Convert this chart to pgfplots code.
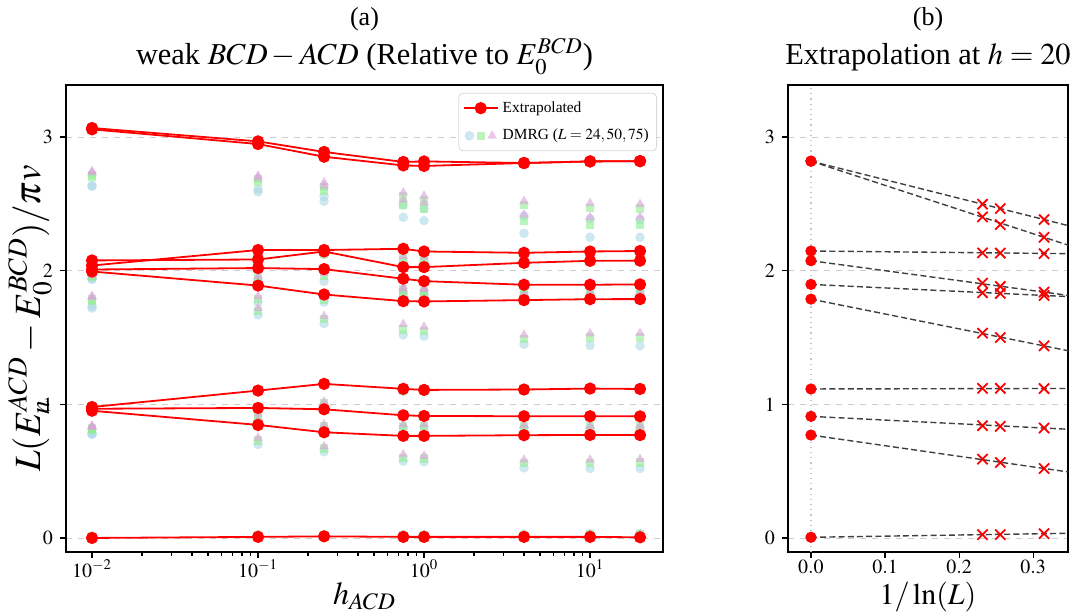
\documentclass[border=0pt]{standalone}
\usepackage{mathptmx}
\usepackage{fontspec}
\setmainfont{Liberation Serif}
\usepackage{pgfplots}
\usepackage{pgfplotstable}
\pgfplotsset{compat=1.18}

\definecolor{lb}{HTML}{ADD8E6}
\definecolor{lg}{HTML}{90EE90}
\definecolor{pl}{HTML}{DDA0DD}
\definecolor{gridc}{HTML}{CCCCCC}

% Extrapolated values (levels a..n) vs h
\pgfplotstableread{
h     a      b      c      d      e      f      g      k      m      n
0.01  3.068  3.058  2.039  2.077  2.009  1.994  0.980  0.967  0.952  0.000
0.1   2.968  2.948  2.155  2.084  2.020  1.889  1.103  0.973  0.846  0.008
0.25  2.889  2.853  2.155  2.144  2.012  1.822  1.153  0.963  0.791  0.012
0.75  2.814  2.788  2.164  2.027  1.940  1.772  1.116  0.918  0.764  0.008
1     2.818  2.784  2.144  2.027  1.922  1.770  1.108  0.913  0.764  0.008
4     2.806  2.806  2.134  2.059  1.895  1.780  1.111  0.911  0.769  0.008
10    2.818  2.818  2.144  2.074  1.895  1.787  1.118  0.911  0.771  0.008
20    2.820  2.820  2.1475 2.075  1.8975 1.7875 1.115  0.910  0.770  0.005
}\Ext

% DMRG L=24
\pgfplotstableread{
h     a      b      c      d      e      f      g      k      m      n
0.01  2.640  2.630  1.940  1.935  1.735  1.720  0.785  0.780  0.775  0.012
0.1   2.610  2.590  2.125  1.930  1.760  1.670  0.885  0.830  0.700  0.025
0.25  2.555  2.520  2.120  1.920  1.765  1.605  0.975  0.810  0.645  0.025
0.75  2.490  2.400  2.065  1.800  1.830  1.520  1.095  0.820  0.575  0.025
1     2.465  2.375  2.070  1.810  1.830  1.510  1.095  0.820  0.570  0.025
4     2.410  2.280  2.110  1.830  1.810  1.450  1.100  0.820  0.525  0.030
10    2.390  2.250  2.120  1.835  1.815  1.440  1.110  0.820  0.520  0.032
20    2.3825 2.250  2.128  1.840  1.815  1.4375 1.118  0.8225 0.520  0.0325
}\La

% DMRG L=50
\pgfplotstableread{
h     a      b      c      d      e      f      g      k      m      n
0.01  2.715  2.705  1.960  1.955  1.785  1.775  0.820  0.815  0.810  0.010
0.1   2.685  2.665  2.135  1.950  1.790  1.700  0.915  0.860  0.730  0.020
0.25  2.625  2.595  2.130  1.960  1.785  1.640  1.005  0.835  0.670  0.020
0.75  2.555  2.490  2.090  1.840  1.860  1.560  1.100  0.840  0.600  0.020
1     2.530  2.465  2.090  1.840  1.850  1.550  1.100  0.840  0.595  0.020
4     2.490  2.370  2.115  1.875  1.825  1.490  1.105  0.835  0.560  0.022
10    2.470  2.345  2.125  1.880  1.830  1.500  1.115  0.835  0.560  0.025
20    2.465  2.345  2.132  1.8825 1.830  1.500  1.120  0.835  0.565  0.025
}\Lb

% DMRG L=75
\pgfplotstableread{
h     a      b      c      d      e      f      g      k      m      n
0.01  2.745  2.735  1.970  1.965  1.810  1.800  0.840  0.835  0.830  0.010
0.1   2.710  2.695  2.140  1.960  1.810  1.720  0.930  0.880  0.750  0.020
0.25  2.660  2.635  2.135  1.980  1.800  1.660  1.020  0.850  0.685  0.020
0.75  2.585  2.530  2.110  1.860  1.880  1.600  1.105  0.850  0.625  0.020
1     2.560  2.510  2.105  1.860  1.870  1.580  1.105  0.850  0.615  0.020
4     2.520  2.420  2.120  1.900  1.830  1.520  1.110  0.845  0.585  0.022
10    2.505  2.400  2.130  1.905  1.835  1.530  1.115  0.840  0.585  0.025
20    2.4975 2.4025 2.133  1.9075 1.835  1.5325 1.120  0.840  0.590  0.025
}\Lc

% Panel (b): DMRG at h=20 vs 1/ln(L)
\pgfplotstableread{
x       a      b      c      d      e      f      g      k      m      n
0.2316  2.4975 2.4025 2.133  1.9075 1.835  1.5325 1.120  0.840  0.590  0.025
0.2556  2.465  2.345  2.132  1.8825 1.830  1.500  1.120  0.835  0.565  0.025
0.3147  2.3825 2.250  2.128  1.840  1.815  1.4375 1.118  0.8225 0.520  0.0325
}\Cross

% Panel (b): extrapolated values at 1/ln(L)=0
\pgfplotstableread{
x     a      b      c      d      e      f      g      k      m      n
0     2.820  2.820  2.1475 2.075  1.8975 1.7875 1.115  0.910  0.770  0.005
}\Zero

% Panel (b): linear fits
\pgfplotstableread{
x     a      b      c      d      e      f      g      k      m      n
0     2.820  2.820  2.1475 2.075  1.8975 1.7875 1.115  0.910  0.770  0.005
0.36  2.320  2.168  2.127  1.806  1.803  1.387  1.119  0.810  0.484  0.036
}\Fits

\pgfplotsset{
  dmrgA/.style={only marks, mark=*, mark size=2.4pt, mark options={draw opacity=0, fill=lb, fill opacity=0.6}, forget plot},
  dmrgB/.style={only marks, mark=square*, mark size=2.1pt, mark options={draw opacity=0, fill=lg, fill opacity=0.6}, forget plot},
  dmrgC/.style={only marks, mark=triangle*, mark size=2.8pt, mark options={draw opacity=0, fill=pl, fill opacity=0.6}, forget plot},
  extr/.style={red, line width=0.9pt, mark=*, mark size=2.6pt, mark options={solid, fill=red, draw=red}, forget plot},
  common/.style={
    scale only axis, height=233.5pt,
    ymin=-0.105, ymax=3.39, ytick={0,1,2,3},
    tick align=outside, xtick pos=bottom, ytick pos=left,
    major tick length=3pt, minor tick length=1.8pt,
    ymajorgrids, grid style={gridc, dashed, line width=0.4pt},
    axis line style={line width=0.7pt},
    every tick/.style={black, line width=0.6pt},
    tick label style={font=\fontsize{10}{12}\selectfont},
    xticklabel style={yshift=2.5pt},
    title style={font=\fontsize{15.2}{18}\selectfont, at={(0.5,1.0171)}, anchor=base},
  },
}

\begin{document}
\begin{tikzpicture}
\useasboundingbox (-33pt,-31pt) rectangle (502.5pt,276pt);

\begin{axis}[common, name=left,
  at={(0pt,0pt)}, anchor=south west, width=298.5pt,
  xmode=log, xmin=0.00697, xmax=27.5,
  xtick={0.01,0.1,1,10},
  title={weak $BCD-ACD$ (Relative to $E_0^{BCD}$)},
  xlabel={$h_{ACD}$},
  xlabel style={font=\fontsize{16}{19}\selectfont, at={(0.5,-0.094)}, anchor=center},
  ylabel={$L(E_n^{ACD}-E_0^{BCD})/\pi v$},
  ylabel style={font=\fontsize{18.5}{22}\selectfont, at={(-0.0603,0.5)}, anchor=center},
  legend cell align=left,
  legend style={at={(0.99,0.983)}, anchor=north east, draw=black!15, rounded corners=2pt,
    font=\fontsize{7.7}{9.5}\selectfont, row sep=3pt, inner sep=2pt},
]
\addlegendimage{red, line width=0.9pt, mark=*, mark size=2.6pt, mark options={solid, fill=red}}
\addlegendentry{Extrapolated}
\addlegendimage{legend image code/.code={
  \path plot[mark=*, mark size=2.4pt, mark options={draw opacity=0, fill=lb, fill opacity=0.6}] coordinates {(0.1cm,0cm)};
  \path plot[mark=square*, mark size=2.1pt, mark options={draw opacity=0, fill=lg, fill opacity=0.6}] coordinates {(0.3cm,0cm)};
  \path plot[mark=triangle*, mark size=2.8pt, mark options={draw opacity=0, fill=pl, fill opacity=0.6}] coordinates {(0.5cm,0cm)};
}}
\addlegendentry{DMRG ($L=24,50,75$)}

\pgfplotsinvokeforeach{a,b,c,d,e,f,g,k,m,n}{
  \addplot[dmrgA] table[x=h, y=#1] {\La};
}
\pgfplotsinvokeforeach{a,b,c,d,e,f,g,k,m,n}{
  \addplot[dmrgB] table[x=h, y=#1] {\Lb};
}
\pgfplotsinvokeforeach{a,b,c,d,e,f,g,k,m,n}{
  \addplot[dmrgC] table[x=h, y=#1] {\Lc};
}
\pgfplotsinvokeforeach{a,b,c,d,e,f,g,k,m,n}{
  \addplot[extr] table[x=h, y=#1] {\Ext};
}
\end{axis}

\begin{axis}[common, name=right,
  at={(361pt,0pt)}, anchor=south west, width=140pt,
  xmin=-0.031, xmax=0.347,
  xtick={0,0.1,0.2,0.3},
  xticklabel style={/pgf/number format/.cd, fixed, fixed zerofill, precision=1},
  title={Extrapolation at $h=20$},
  xlabel={$1/\ln(L)$},
  xlabel style={font=\fontsize{15}{18}\selectfont, at={(0.5,-0.097)}, anchor=center},
]
\addplot[gray!45, dotted, line width=0.6pt, forget plot] coordinates {(0,-0.105) (0,3.39)};
\pgfplotsinvokeforeach{a,b,c,d,e,f,g,k,m,n}{
  \addplot[black!75, line width=0.7pt, dash pattern=on 3pt off 1.6pt, forget plot] table[x=x, y=#1] {\Fits};
}
\pgfplotsinvokeforeach{a,b,c,d,e,f,g,k,m,n}{
  \addplot[red, only marks, mark=x, mark size=3.6pt, line width=0.9pt, forget plot] table[x=x, y=#1] {\Cross};
}
\pgfplotsinvokeforeach{a,b,c,d,e,f,g,k,m,n}{
  \addplot[red, only marks, mark=*, mark size=2.6pt, forget plot] table[x=x, y=#1] {\Zero};
}
\end{axis}

\node[font=\fontsize{13}{15}\selectfont, anchor=base] at ([yshift=29.5pt]left.north) {(a)};
\node[font=\fontsize{13}{15}\selectfont, anchor=base] at ([yshift=29.5pt]right.north) {(b)};
\end{tikzpicture}
\end{document}
